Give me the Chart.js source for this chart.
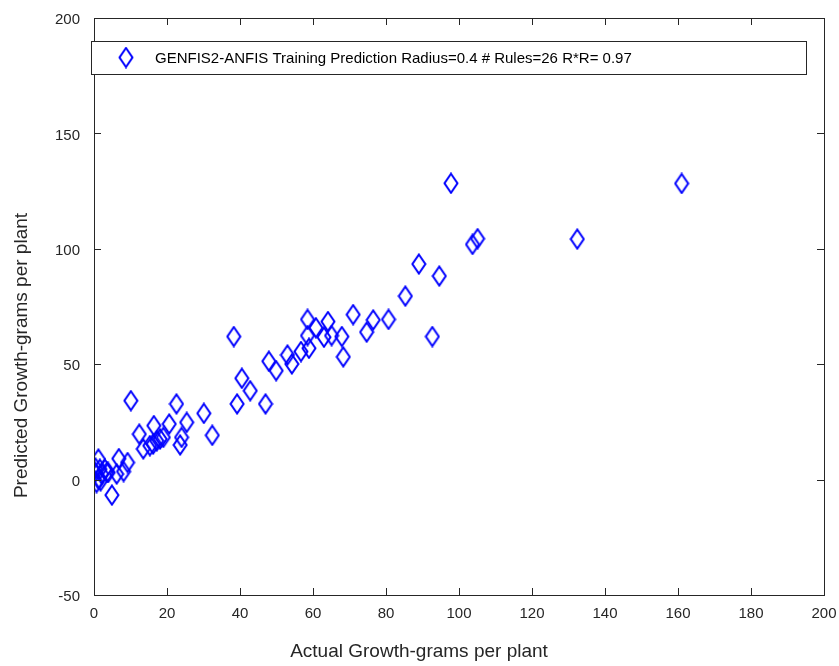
<!DOCTYPE html>
<html>
<head>
<meta charset="utf-8">
<script src="https://cdn.jsdelivr.net/npm/chart.js@4/dist/chart.umd.min.js"></script>
<style>
  html, body { margin: 0; padding: 0; background: #fff; }
  #wrap { width: 839px; height: 666px; }
</style>
</head>
<body>
<div id="wrap"><canvas id="chart" width="839" height="666"></canvas></div>
<script>
// valeurs (GENFIS2-ANFIS, apprentissage)
const actualGrowth = [
  97.8, 161.0, 105.1, 103.7, 132.4, 89.0, 94.6, 85.3, 80.7, 92.7,
  71.0, 76.5, 74.7, 58.5, 64.1, 60.8, 58.5, 63.0, 65.1, 67.9,
  68.3, 58.9, 56.7, 53.0, 54.2, 47.9, 49.9, 38.3, 40.5, 42.8,
  39.2, 47.0, 30.1, 10.1, 22.6, 20.6, 25.4, 16.4, 12.4, 32.4,
  24.0, 23.6, 13.5, 15.3, 16.2, 17.2, 18.1, 19.0,
  1.2, 6.8, 9.2, 8.1, 6.2, 4.9, 3.9, 3.0, 1.6, 0.3, 1.2, 0.7, 2.1, 3.5, 1.8, 0.4
];
const predictedGrowth = [
  128.4, 128.3, 104.4, 101.9, 104.2, 93.4, 88.2, 79.5, 69.4, 62.0,
  71.5, 69.2, 63.9, 69.4, 68.5, 65.8, 62.4, 61.7, 62.4, 62.0,
  53.2, 56.9, 55.5, 54.0, 50.1, 51.3, 47.2, 62.0, 43.9, 38.5,
  32.8, 32.8, 28.7, 34.2, 32.8, 24.1, 24.8, 23.4, 19.7, 19.2,
  18.3, 15.0, 13.3, 14.7, 15.4, 16.8, 17.6, 18.3,
  8.9, 9.1, 7.4, 3.5, 2.4, -6.7, 3.1, 4.5, 4.5, 3.1, 0.2, -1.3, 2.4, 3.1, -0.5, 5.0
];
const xTicks = [0, 20, 40, 60, 80, 100, 120, 140, 160, 180, 200];
const yTicks = [-50, 0, 50, 100, 150, 200];
const seriesLabel = 'GENFIS2-ANFIS Training Prediction Radius=0.4 # Rules=26 R*R= 0.97';
const xTitle = 'Actual Growth-grams per plant';
const yTitle = 'Predicted Growth-grams per plant';

const BLUE = '#0000ff';
const INK = '#262626';
const FONT = "'Liberation Sans', Arial, sans-serif";

// losange façon matlab (plus haut que large)
function diamond() {
  const c = document.createElement('canvas');
  c.width = 16; c.height = 22;
  const g = c.getContext('2d');
  g.strokeStyle = BLUE;
  g.lineWidth = 2;
  g.beginPath();
  g.moveTo(8, 1.5); g.lineTo(14.5, 11); g.lineTo(8, 20.5); g.lineTo(1.5, 11);
  g.closePath();
  g.stroke();
  return c;
}
const marker = diamond();

const frame = {
  id: 'frame',
  afterDraw(chart) {
    const { ctx, chartArea: a, scales: { x, y } } = chart;
    ctx.save();
    ctx.strokeStyle = INK;
    ctx.lineWidth = 1;
    ctx.strokeRect(Math.round(a.left) + 0.5, Math.round(a.top) + 0.5, Math.round(a.right - a.left), Math.round(a.bottom - a.top));
    const t = 7;
    ctx.beginPath();
    xTicks.forEach((v) => {
      const px = Math.round(x.getPixelForValue(v)) + 0.5;
      ctx.moveTo(px, a.bottom); ctx.lineTo(px, a.bottom - t);
      ctx.moveTo(px, a.top); ctx.lineTo(px, a.top + t);
    });
    yTicks.forEach((v) => {
      const py = Math.round(y.getPixelForValue(v)) + 0.5;
      ctx.moveTo(a.left, py); ctx.lineTo(a.left + t, py);
      ctx.moveTo(a.right, py); ctx.lineTo(a.right - t, py);
    });
    ctx.stroke();

    // légende dans le cadre
    const lx = a.left - 3, ly = a.top + 23, lw = 715, lh = 33;
    ctx.fillStyle = '#fff';
    ctx.fillRect(lx, ly, lw, lh);
    ctx.strokeStyle = INK;
    ctx.strokeRect(Math.round(lx) + 0.5, Math.round(ly) + 0.5, lw, lh);
    ctx.drawImage(marker, lx + 35 - 8, ly + lh / 2 - 11);
    ctx.fillStyle = '#000';
    ctx.font = '15px ' + FONT;
    ctx.textBaseline = 'middle';
    ctx.textAlign = 'left';
    ctx.fillText(seriesLabel, lx + 64, ly + lh / 2 + 1);

    // titres des axes (décalés comme sur la figure d'origine)
    ctx.fillStyle = INK;
    ctx.font = '19px ' + FONT;
    ctx.textAlign = 'center';
    ctx.fillText(xTitle, (a.left + a.right) / 2 - 40, a.bottom + 57);
    ctx.translate(22, (a.top + a.bottom) / 2 + 49);
    ctx.rotate(-Math.PI / 2);
    ctx.fillText(yTitle, 0, 0);
    ctx.restore();
  }
};

new Chart(document.getElementById('chart'), {
  type: 'scatter',
  data: {
    datasets: [{
      label: seriesLabel,
      data: actualGrowth.map((v, i) => ({ x: v, y: predictedGrowth[i] })),
      pointStyle: marker,
      borderColor: BLUE,
      backgroundColor: 'transparent'
    }]
  },
  plugins: [frame],
  options: {
    responsive: false,
    animation: false,
    layout: { padding: { left: 0, top: 18, right: 15, bottom: 0 } },
    plugins: { legend: { display: false }, tooltip: { enabled: false } },
    scales: {
      x: {
        type: 'linear', min: 0, max: 200,
        afterFit: (s) => { s.height = 71; s.paddingLeft = 0; s.paddingRight = 0; },
        afterBuildTicks: (s) => { s.ticks = xTicks.map((v) => ({ value: v })); },
        grid: { display: false, drawTicks: false },
        border: { display: false },
        ticks: { padding: 10, color: INK, font: { family: FONT, size: 15 }, maxRotation: 0 }
      },
      y: {
        type: 'linear', min: -50, max: 200,
        afterFit: (s) => { s.width = 94; s.paddingTop = 0; s.paddingBottom = 0; },
        afterBuildTicks: (s) => { s.ticks = yTicks.map((v) => ({ value: v })); },
        grid: { display: false, drawTicks: false },
        border: { display: false },
        ticks: { padding: 14, labelOffset: 2, color: INK, font: { family: FONT, size: 15 } }
      }
    }
  }
});
</script>
</body>
</html>
